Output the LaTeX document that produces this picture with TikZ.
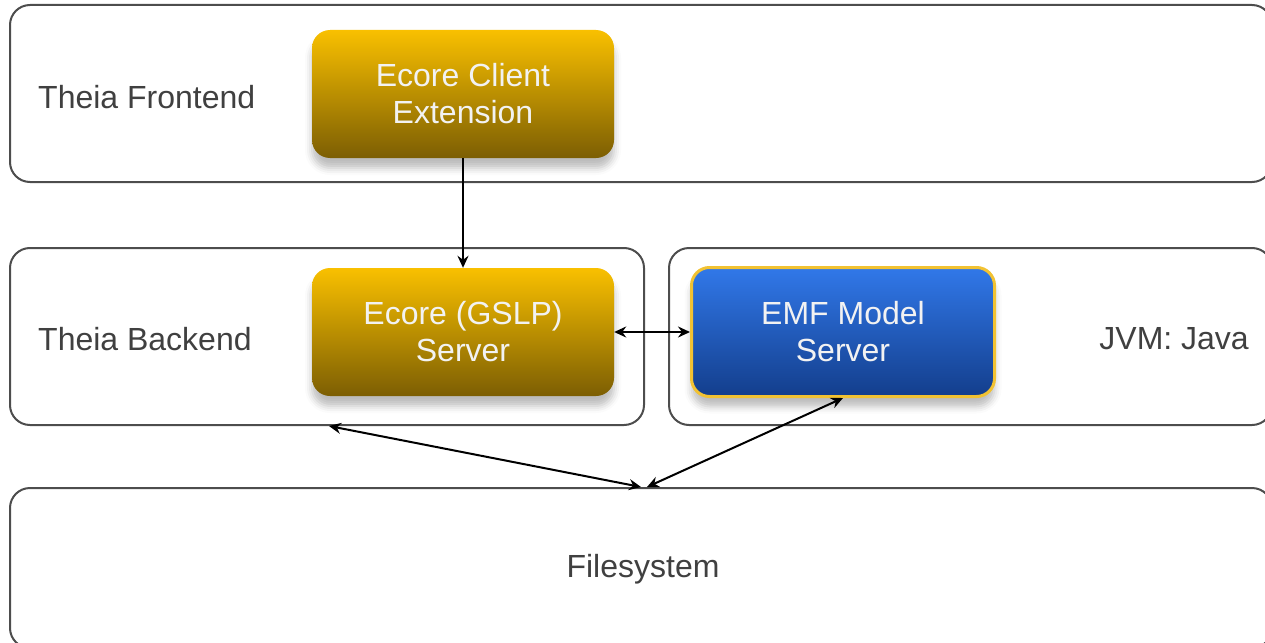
\documentclass[tikz,border=0pt]{standalone}
\usepackage{fontspec}
\setmainfont{Liberation Sans}
\usetikzlibrary{arrows.meta,shadows.blur}
\definecolor{labelgrey}{HTML}{404040}
\definecolor{linegrey}{HTML}{4D4D4D}
\definecolor{goldtop}{HTML}{F9C000}
\definecolor{goldbottom}{HTML}{7C5E03}
\definecolor{bluetop}{HTML}{3178E9}
\definecolor{bluebottom}{HTML}{133E8C}
\definecolor{blueedge}{HTML}{F2C232}
\definecolor{boxtext}{HTML}{F2F2F2}
\begin{document}
\begin{tikzpicture}[x=1pt,y=-1pt,
    every node/.style={font=\fontsize{32}{37}\selectfont},
    layer/.style={draw=linegrey, line width=2pt, rounded corners=20pt, inner sep=0pt},
    component/.style={rounded corners=18pt, inner sep=0pt, minimum width=302pt, minimum height=128pt,
        text=boxtext, align=center,
        blur shadow={shadow xshift=0pt, shadow yshift=-10pt, shadow blur radius=7pt, shadow opacity=26}},
    goldbox/.style={component, top color=goldtop, bottom color=goldbottom},
    bluebox/.style={component, draw=blueedge, line width=3pt, top color=bluetop, bottom color=bluebottom},
    caption/.style={text=labelgrey, inner sep=0pt},
    link/.style={line width=2pt, >={Stealth[length=12pt,width=11pt,inset=4pt]}}]
            \useasboundingbox (0,0) rectangle (1265,642);

            \node[layer, minimum width=1262pt, minimum height=177pt] (frontend) at (641,93.5) {};
            \node[layer, minimum width=634pt, minimum height=177pt] (backend) at (327,336.5) {};
            \node[layer, minimum width=603pt, minimum height=177pt] (jvm) at (970.5,336.5) {};
            \node[layer, minimum width=1262pt, minimum height=160pt] (fs) at (641,568) {};

            \node[caption, anchor=west] (frontendlabel) at (38,97) {Theia Frontend};
            \node[caption, anchor=west] (backendlabel) at (38,339) {Theia Backend};
            \node[caption, anchor=east] (jvmlabel) at (1249,339) {JVM: Java};
            \node[caption] (fslabel) at (643,569) {Filesystem};

            \node[goldbox] (client) at (463,94) {Ecore Client\\Extension};
            \node[goldbox] (server) at (463,332) {Ecore (GSLP)\\Server};
            \node[bluebox, minimum width=303pt, minimum height=129pt] (emf) at (843,332) {EMF Model\\Server};

            \draw[link, ->] (client) -- (server);
            \draw[link, <->] (server) -- (emf);
            \draw[link, <->] ([xshift=320pt]backend.south west) -- (fs.north);
            \draw[link, <->] ([xshift=6pt]fs.north) -- (emf.south);
        \end{tikzpicture}
\end{document}
